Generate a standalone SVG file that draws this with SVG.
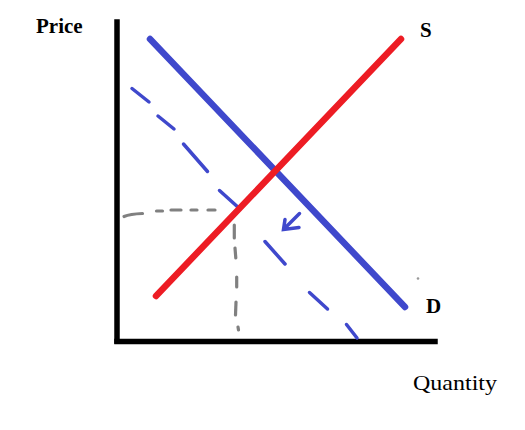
<svg xmlns="http://www.w3.org/2000/svg" width="525" height="430" viewBox="0 0 525 430">
<style>
.axis{stroke:#000;stroke-width:5.5;stroke-linecap:square;fill:none}
.sd{stroke-linecap:round;fill:none}
.blue{stroke:#3f48cc}
.red{stroke:#ed1c24}
.main{stroke-width:6.5}
.dash{stroke-width:3.5}
.grey{stroke:#808080;stroke-width:3.2;stroke-linecap:round;fill:none}
.lbl{font-family:"Liberation Serif",serif;font-size:21px;fill:#000}
.b{font-weight:bold}
</style>
<rect width="525" height="430" fill="#fff"/>
<g id="axes">
<line class="axis" x1="117" y1="22" x2="117" y2="341"/>
<line class="axis" x1="117" y1="341.5" x2="435" y2="341.5"/>
</g>
<g id="connectors">
<g id="guides">
<path class="grey" d="M124,216.5 Q130,214 142.5,213.5"/>
<line class="grey" x1="156.5" y1="211" x2="162.5" y2="211"/>
<line class="grey" x1="171" y1="210" x2="181" y2="210"/>
<line class="grey" x1="191" y1="210" x2="197" y2="210"/>
<line class="grey" x1="208" y1="210" x2="215" y2="210"/>
<line class="grey" x1="234.3" y1="225" x2="234.3" y2="238"/>
<line class="grey" x1="235" y1="248" x2="235.8" y2="258"/>
<line class="grey" x1="236.7" y1="277" x2="236.7" y2="287"/>
<line class="grey" x1="236" y1="302" x2="235.5" y2="315"/>
<line class="grey" x1="238" y1="327" x2="238.5" y2="330"/>
<circle cx="418" cy="278.5" r="1.3" fill="#999"/>
</g>
<g id="demand-new">
<line class="sd blue dash" x1="132" y1="88.5" x2="149" y2="102"/>
<line class="sd blue dash" x1="158" y1="116" x2="174" y2="129"/>
<line class="sd blue dash" x1="183.5" y1="144" x2="207.5" y2="171.5"/>
<line class="sd blue dash" x1="219.5" y1="190.5" x2="240" y2="209"/>
<line class="sd blue dash" x1="265" y1="241.5" x2="285" y2="264"/>
<line class="sd blue dash" x1="309.5" y1="292.5" x2="327.5" y2="309"/>
<line class="sd blue dash" x1="346.5" y1="324.5" x2="357" y2="338"/>
</g>
<g id="shift-arrow">
<path class="sd blue dash" d="M299.5,213.5 L283.5,229.5 M285,219.5 L283.5,229.5 L299,227.5"/>
</g>
</g>
<g id="demand">
<line class="sd blue main" x1="150" y1="39" x2="405" y2="307"/>
</g>
<g id="supply">
<line class="sd red main" x1="156" y1="296" x2="401" y2="39"/>
</g>
<g id="labels">
<text class="lbl b" x="36" y="33">Price</text>
<text class="lbl b" x="420" y="37">S</text>
<text class="lbl b" x="426" y="313">D</text>
<text class="lbl" x="413" y="390" textLength="84" lengthAdjust="spacingAndGlyphs">Quantity</text>
</g>
</svg>
